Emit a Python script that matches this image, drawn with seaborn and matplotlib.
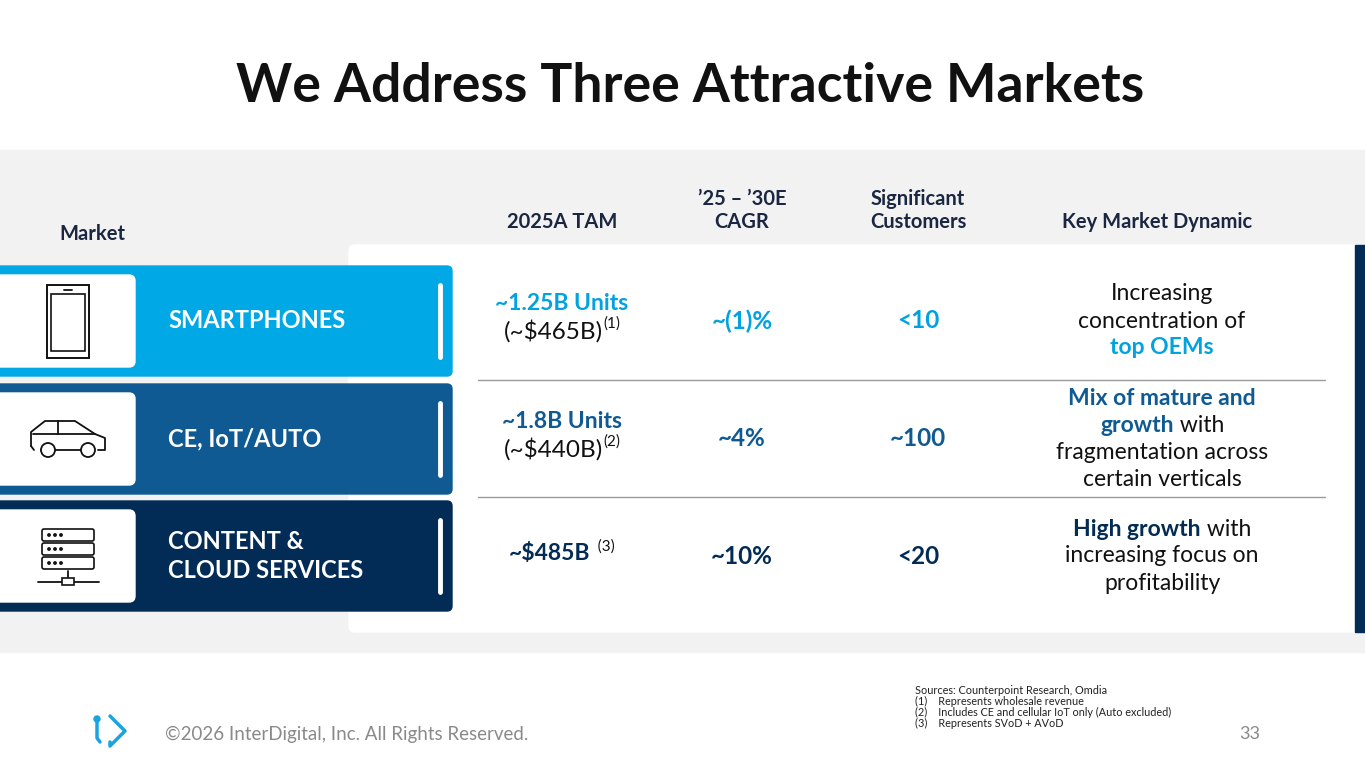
import matplotlib
matplotlib.use("Agg")
import matplotlib.pyplot as plt
import seaborn as sns
from matplotlib.patches import FancyBboxPatch, Rectangle, Circle

sns.set_theme(style="white")
plt.rcParams['font.family'] = ['Lato', 'DejaVu Sans']

# data
headers = ["2025A TAM", "\u201925 \u2013 \u201930E\nCAGR", "Significant\nCustomers", "Key Market Dynamic"]
markets = ["SMARTPHONES", "CE, IoT/AUTO", "CONTENT &\nCLOUD SERVICES"]
tam_main = ["~1.25B Units", "~1.8B Units", "~$485B"]
tam_sub = ["(~$465B)", "(~$440B)", ""]
tam_note = ["(1)", "(2)", "(3)"]
cagr = ["~(1)%", "~4%", "~10%"]
customers = ["<10", "~100", "<20"]
# each line: list of (text, bold)
dynamics = [
    [[("Increasing", False)], [("concentration of", False)], [("top OEMs", True)]],
    [[("Mix of mature and", True)], [("growth", True), (" with", False)],
     [("fragmentation across", False)], [("certain verticals", False)]],
    [[("High growth", True), (" with", False)], [("increasing focus on", False)], [("profitability", False)]],
]
row_colors = ["#00a8e6", "#0f5a93", "#022b55"]
text_colors = ["#00a3e0", "#0f5a93", "#022b55"]
navy = "#1b2741"
footnotes = ["Sources: Counterpoint Research, Omdia", "(1)    Represents wholesale revenue",
             "(2)    Includes CE and cellular IoT only (Auto excluded)", "(3)    Represents SVoD + AVoD"]

fig = plt.figure(figsize=(13.65, 7.68), dpi=100)
ax = fig.add_axes([0, 0, 1, 1])
ax.set_xlim(0, 1365)
ax.set_ylim(768, 0)
ax.axis("off")
fig.canvas.draw()
renderer = fig.canvas.get_renderer()

BODY = 16.5


def runs_centered(x, y, runs):
    texts = []
    for txt, color, weight, sz, dy in runs:
        t = ax.text(0, y + dy, txt, color=color, fontweight=weight, fontsize=sz,
                    va="center", ha="left")
        texts.append(t)
    widths = [t.get_window_extent(renderer).width for t in texts]
    cur = x - sum(widths) / 2
    for t, w in zip(texts, widths):
        t.set_x(cur)
        cur += w


ax.text(690, 86, "We Address Three Attractive Markets", ha="center", va="center",
        fontsize=38.5, fontweight="bold", color="#111111")

ax.add_patch(Rectangle((0, 150), 1365, 502, color="#f2f2f2", zorder=0))
ax.add_patch(FancyBboxPatch((349, 245), 1016, 387, boxstyle="round,pad=0,rounding_size=6",
                            color="white", zorder=1))
ax.add_patch(Rectangle((1355, 245), 10, 387, color="#022b55", zorder=2))

ax.text(92, 234, "Market", ha="center", va="center", fontsize=14.5, fontweight="bold", color=navy)
hx = [562, 742, 918, 1157]
for x, h in zip(hx, headers):
    ax.text(x, 232, h, ha="center", va="bottom", fontsize=14.5, fontweight="bold", color=navy,
            linespacing=1.2)

row_top = [266, 384, 501]
row_h = 110
for i, top in enumerate(row_top):
    c = row_colors[i]
    ax.add_patch(FancyBboxPatch((-10, top), 462, row_h, boxstyle="round,pad=0,rounding_size=5",
                                color=c, zorder=2))
    ax.add_patch(FancyBboxPatch((-10, top + 9), 145, row_h - 18,
                                boxstyle="round,pad=0,rounding_size=6", color="white", zorder=3))
    ax.plot([440, 440], [top + 19, top + row_h - 19], color="white", lw=3.5,
            solid_capstyle="round", zorder=3)
    ax.text(168, top + row_h / 2, markets[i], ha="left", va="center", color="white",
            fontsize=17, fontweight="bold", linespacing=1.3, zorder=4)
    cy = top + row_h / 2
    if tam_sub[i]:
        ax.text(562, cy - 17, tam_main[i], ha="center", va="center", fontsize=BODY,
                fontweight="bold", color=text_colors[i])
        runs_centered(562, cy + 10, [(tam_sub[i], "#111111", "normal", BODY + 1, 0),
                                     (tam_note[i], "#111111", "normal", 11, -7)])
    else:
        runs_centered(562, cy - 2, [(tam_main[i], text_colors[i], "bold", BODY, 0),
                                    ("  " + tam_note[i], "#111111", "normal", 11, -7)])
    ax.text(742, cy, cagr[i], ha="center", va="center", fontsize=BODY + 1, fontweight="bold",
            color=text_colors[i])
    ax.text(918, cy, customers[i], ha="center", va="center", fontsize=BODY + 1, fontweight="bold",
            color=text_colors[i])
    lines = dynamics[i]
    lh = 27
    y0 = cy - (len(lines) - 1) * lh / 2
    for k, line in enumerate(lines):
        runs_centered(1162, y0 + k * lh,
                      [(t, text_colors[i] if b else "#111111", "bold" if b else "normal", BODY, 0)
                       for t, b in line])

for y in [380, 497]:
    ax.plot([478, 1325], [y, y], color="#9a9a9a", lw=1, zorder=2)

# icons
k = dict(color="#111111", lw=1.3, zorder=4)
ax.add_patch(Rectangle((47, 285), 42, 73, fill=False, ec="#111111", lw=1.4, zorder=4))
ax.add_patch(Rectangle((51, 294), 34, 57, fill=False, ec="#111111", lw=1.2, zorder=4))
ax.plot([64, 72], [290, 290], **k)
ax.plot([31, 31, 45, 75, 95, 105, 105, 98], [446, 432, 421, 421, 434, 438, 450, 450], **k)
ax.plot([41, 81], [450, 450], **k)
ax.plot([31, 34], [446, 450], **k)
ax.plot([58, 58], [421, 434], **k)
ax.plot([33, 95], [434, 434], **k)
ax.add_patch(Circle((48, 450), 7, fc="white", ec="#111111", lw=1.3, zorder=4))
ax.add_patch(Circle((88, 450), 7, fc="white", ec="#111111", lw=1.3, zorder=4))
for j in range(3):
    ax.add_patch(FancyBboxPatch((42, 529 + j * 14), 52, 12, boxstyle="round,pad=0,rounding_size=2",
                                fill=False, ec="#111111", lw=1.2, zorder=4))
    for d in range(3):
        ax.add_patch(Circle((49 + d * 6, 535 + j * 14), 1.2, color="#111111", zorder=4))
ax.plot([68, 68], [571, 577], **k)
ax.plot([38, 99], [582, 582], **k)
ax.add_patch(Rectangle((62, 578), 12, 7, fc="white", ec="#111111", lw=1.2, zorder=5))

# footer
ax.plot([97, 97, 100], [718, 738, 742], color="#1aa3e0", lw=2.5)
ax.plot([110, 125, 110, 110], [716, 731, 746, 742], color="#1aa3e0", lw=2.5)
ax.add_patch(Circle((97, 719), 3, color="#1aa3e0"))
ax.text(165, 734, "\u00a92026 InterDigital, Inc. All Rights Reserved.", ha="left", va="center",
        fontsize=13.5, color="#8a8a8a")
for j, f in enumerate(footnotes):
    ax.text(915, 690 + j * 11.3, f, ha="left", va="center", fontsize=7.8, color="#222222")
ax.text(1250, 734, "33", ha="center", va="center", fontsize=13, color="#8a8a8a")

fig.savefig("out.png", dpi=100)
